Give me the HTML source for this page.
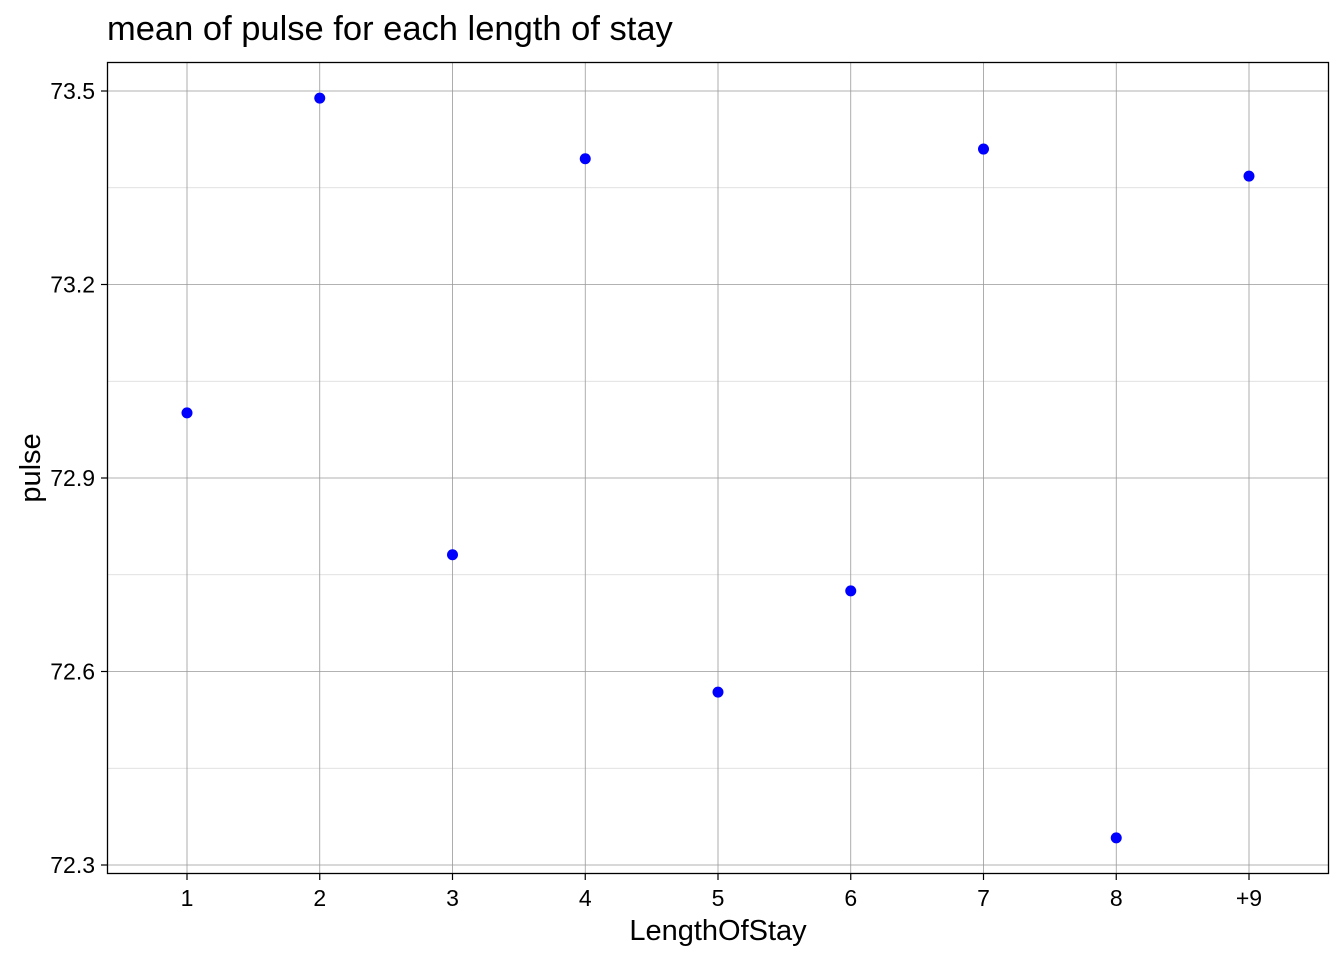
<!DOCTYPE html>
<html><head><meta charset="utf-8">
<style>
body{margin:0;background:#fff;width:1344px;height:960px;overflow:hidden;font-family:"Liberation Sans",Arial,sans-serif;}
</style></head>
<body>
<svg id="chart" width="1344" height="960" xmlns="http://www.w3.org/2000/svg" font-family="Liberation Sans, Arial, sans-serif">
<text x="107" y="40" font-size="34.5" fill="#000">mean of pulse for each length of stay</text>
<text x="718" y="940" font-size="29" text-anchor="middle" fill="#000">LengthOfStay</text>
<text transform="translate(40,468) rotate(-90)" font-size="29" text-anchor="middle" fill="#000">pulse</text>
<g id="grid"></g><g id="ticks"></g><g id="points"></g>
<rect x="107.5" y="62.5" width="1221" height="811" fill="none" stroke="#000" stroke-width="1.3"/>
</svg>
<script>
const categories=["1","2","3","4","5","6","7","8","+9"];
const pulseValues=[73.001,73.489,72.781,73.395,72.568,72.725,73.410,72.342,73.368];
const yTicks=[72.3,72.6,72.9,73.2,73.5];
const yMinor=[72.45,72.75,73.05,73.35];
const NS="http://www.w3.org/2000/svg";
function xs(i){return 187+i*132.75;}
function ys(v){return 91+(73.5-v)*645;}
function mk(tag,attrs,parent){const e=document.createElementNS(NS,tag);for(const k in attrs)e.setAttribute(k,attrs[k]);document.getElementById(parent).appendChild(e);return e;}
yMinor.forEach(v=>{const l=mk('line',{x1:108,x2:1328,y1:ys(v),y2:ys(v),stroke:'#d8d8d8','stroke-width':0.8},'grid');

});
yTicks.forEach(v=>{const l=mk('line',{x1:108,x2:1328,y1:ys(v),y2:ys(v),stroke:'#999','stroke-width':0.8},'grid');


const t=mk('line',{x1:101,x2:107,y1:ys(v),y2:ys(v),stroke:'#000','stroke-width':1.2},'ticks');


const tx=mk('text',{x:95,y:ys(v)+8,'font-size':23,'text-anchor':'end',fill:'#000'},'ticks');tx.textContent=v.toFixed(1);

});
categories.forEach((c,i)=>{const l=mk('line',{x1:xs(i),x2:xs(i),y1:63,y2:873,stroke:'#999','stroke-width':0.8},'grid');


const t=mk('line',{x1:xs(i),x2:xs(i),y1:874,y2:880,stroke:'#000','stroke-width':1.2},'ticks');


const tx=mk('text',{x:xs(i),y:906,'font-size':23,'text-anchor':'middle',fill:'#000'},'ticks');tx.textContent=c;


const p=mk('circle',{cx:xs(i),cy:ys(pulseValues[i]),r:5.5,fill:'#0000ff'},'points');

});
</script>
</body></html>
